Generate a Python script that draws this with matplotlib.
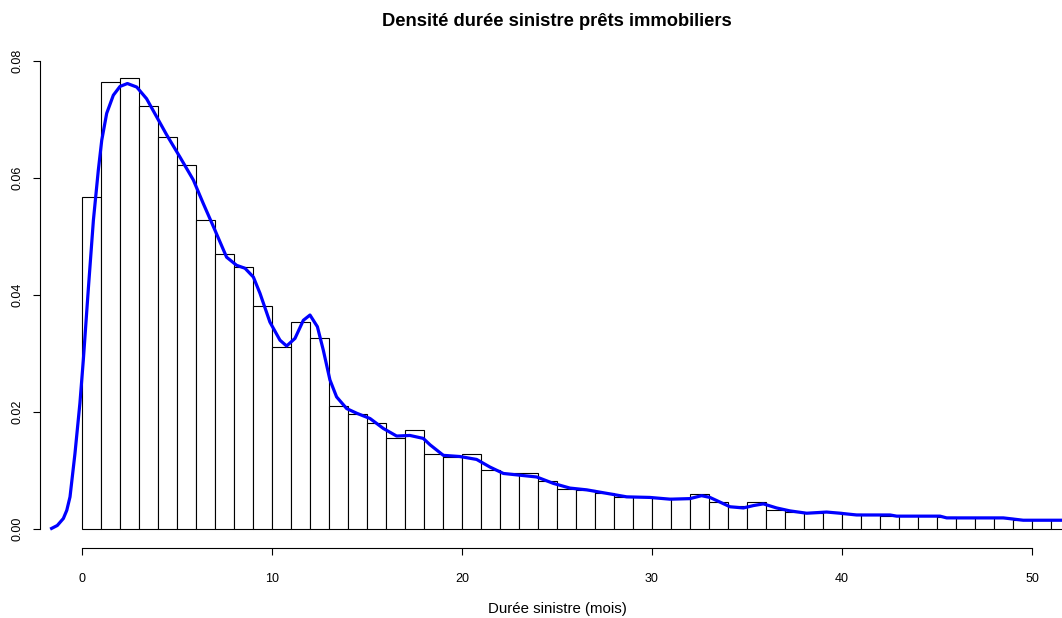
import numpy as np
import matplotlib
matplotlib.use("Agg")
import matplotlib.pyplot as plt

plt.rcParams['font.family'] = ['Liberation Sans', 'DejaVu Sans']

# histogram: 1-month classes starting at 0
bin_left = list(range(0, 52))
densite = [0.0568, 0.0765, 0.0772, 0.0723, 0.0671, 0.0622, 0.0529, 0.0471, 0.0448, 0.0382,
           0.0311, 0.0354, 0.0327, 0.0211, 0.0197, 0.0181, 0.0155, 0.0170, 0.0129, 0.0124,
           0.0129, 0.0101, 0.0095, 0.0095, 0.0082, 0.0069, 0.0067, 0.0061, 0.0054, 0.0054,
           0.0053, 0.0051, 0.0060, 0.0047, 0.0039, 0.0047, 0.0033, 0.0029, 0.0027, 0.0029,
           0.0025, 0.0024, 0.0023, 0.0022, 0.0022, 0.0020, 0.0019, 0.0019, 0.0019, 0.0016,
           0.0015, 0.0015]

# kernel density curve
kde_x = [-1.60, -1.30, -0.98, -0.80, -0.63, -0.37, -0.11, 0.07, 0.33, 0.60, 0.86, 1.04, 1.30,
         1.65, 2.00, 2.39, 2.88, 3.40, 3.93, 4.46, 5.16, 5.86, 6.38, 7.00, 7.61, 8.14, 8.58,
         9.02, 9.37, 9.89, 10.42, 10.77, 11.21, 11.65, 12.00, 12.39, 12.70, 13.05, 13.40,
         13.93, 14.46, 15.16, 15.86, 16.56, 17.26, 17.96, 18.32, 19.02, 19.89, 20.77, 21.47,
         22.18, 23.05, 23.93, 24.81, 25.68, 26.56, 27.62, 28.67, 29.89, 30.95, 32.00, 32.61,
         33.05, 33.58, 34.11, 34.81, 35.33, 35.86, 36.56, 37.26, 38.14, 39.19, 39.89, 40.77,
         42.53, 42.88, 45.16, 45.51, 48.49, 49.54, 51.60]
kde_y = [0.0001, 0.0006, 0.0018, 0.0032, 0.0055, 0.0129, 0.0215, 0.0289, 0.0409, 0.0528,
         0.0614, 0.0665, 0.0711, 0.0742, 0.0757, 0.0762, 0.0756, 0.0736, 0.0705, 0.0674,
         0.0636, 0.0597, 0.0557, 0.0511, 0.0465, 0.0451, 0.0446, 0.0431, 0.0403, 0.0354,
         0.0323, 0.0313, 0.0326, 0.0357, 0.0366, 0.0346, 0.0306, 0.0255, 0.0226, 0.0206,
         0.0198, 0.0189, 0.0172, 0.0159, 0.0160, 0.0155, 0.0144, 0.0126, 0.0124, 0.0119,
         0.0106, 0.0095, 0.0092, 0.0089, 0.0078, 0.0070, 0.0067, 0.0061, 0.0055, 0.0054,
         0.0051, 0.0052, 0.0057, 0.0054, 0.0046, 0.0038, 0.0036, 0.0040, 0.0043, 0.0036,
         0.0031, 0.0027, 0.0029, 0.0027, 0.0024, 0.0024, 0.0022, 0.0022, 0.0019, 0.0019,
         0.0015, 0.0015]

xticks = [0, 10, 20, 30, 40, 50]
yticks = [0.00, 0.02, 0.04, 0.06, 0.08]

fig = plt.figure(figsize=(10.62, 6.18), dpi=100)
ax = fig.add_axes([40/1062, 70/618, 1022/1062, 513/618])

ax.bar(bin_left, densite, width=1, align='edge', color='white', edgecolor='black', linewidth=0.8)
ax.plot(kde_x, kde_y, color='blue', linewidth=2.3, solid_joinstyle='round')

ax.set_xlim(-2.21, 51.58)
ax.set_ylim(-0.00325, 0.0845)

for s in ['top', 'right']:
    ax.spines[s].set_visible(False)
ax.spines['bottom'].set_bounds(0, 50)
ax.spines['left'].set_bounds(0, 0.08)
ax.spines['bottom'].set_linewidth(0.8)
ax.spines['left'].set_linewidth(0.8)

ax.set_xticks(xticks)
ax.set_xticklabels([str(t) for t in xticks])
ax.set_yticks(yticks)
ax.set_yticklabels(['%.2f' % t for t in yticks], rotation=90, va='center')
ax.tick_params(axis='x', length=5, width=0.8, pad=13, labelsize=9)
ax.tick_params(axis='y', length=5, width=0.8, pad=7, labelsize=9)

fig.text(557/1062, 1 - 609/618, 'Durée sinistre (mois)', ha='center', va='center', fontsize=10.8)
fig.text(557/1062, 1 - 22/618, 'Densité durée sinistre prêts immobiliers',
         ha='center', va='center', fontsize=13.2, fontweight='bold')

fig.savefig('out.png', dpi=100)
